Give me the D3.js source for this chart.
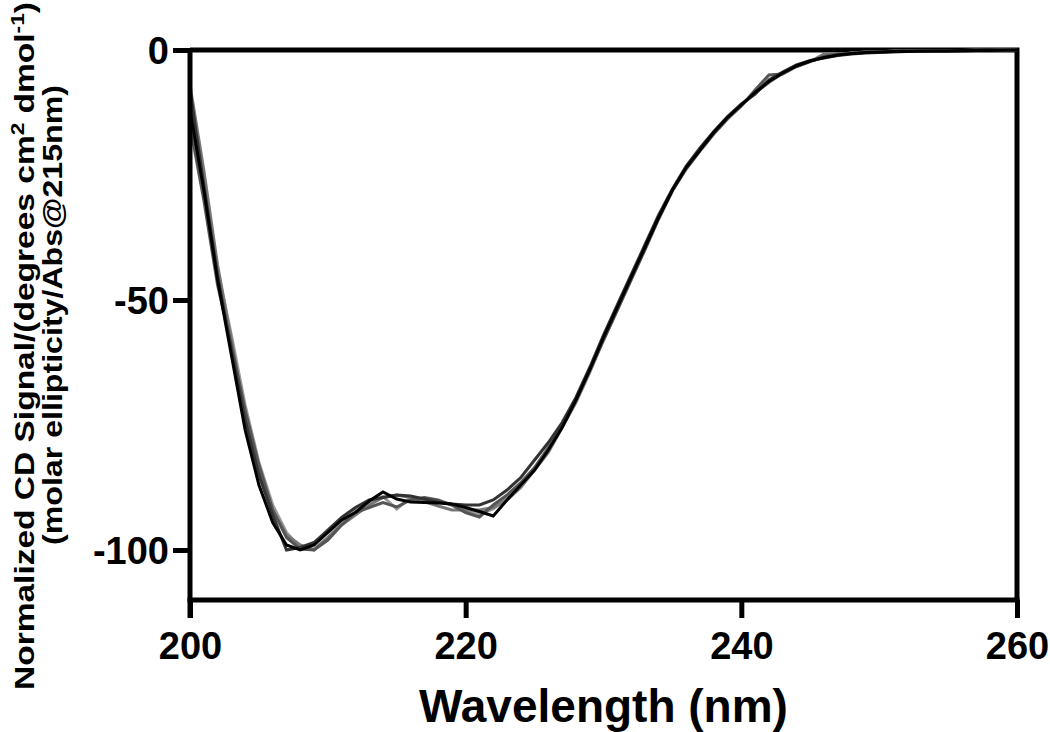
<!DOCTYPE html>
<html>
<head>
<meta charset="utf-8">
<script src="https://d3js.org/d3.v7.min.js"></script>
<style>
  body { margin: 0; background: #fff; }
  text { font-family: "Liberation Sans", Arial, sans-serif; font-weight: bold; fill: #000; }
</style>
</head>
<body>
<div id="my_dataviz"></div>
<script>
// wavelengths sampled every 1 nm
var wavelengths = d3.range(200, 261, 1);

// replicate scans (normalized CD signal)
var scanA = [-12, -28, -46, -61, -76, -87, -94.5, -99, -100, -99, -96.5, -94, -92.5, -90.2, -88.4, -89.8, -90.4, -90.5, -90.6, -90.8,
  -91.5, -92.3, -93.2, -90, -87, -84, -80, -75.5, -70, -64, -57.5, -51.5, -45.5, -39.5, -33.5, -28, -23.5, -20, -16.5, -13.5,
  -11, -8.5, -6.3, -4.6, -3.2, -2.2, -1.5, -1, -0.7, -0.5, -0.4, -0.3, -0.3, -0.2, -0.2, -0.2, -0.1, -0.1, -0.1, 0, 0];
var scanB = [-8, -27, -45, -60, -74, -85, -93, -100, -99.5, -98.5, -96, -93.5, -91.5, -90, -89.5, -89, -89.2, -89.8, -90.4, -90.8,
  -91, -91, -90, -88, -85.5, -82, -78.5, -74.5, -69.5, -63.5, -57, -51, -45, -39, -33, -27.8, -23.2, -19.6, -16.3, -13.3,
  -10.8, -8.8, -6, -4.4, -3, -2.1, -1.6, -1.1, -0.8, -0.6, -0.5, -0.4, -0.3, -0.3, -0.2, -0.2, -0.2, -0.1, -0.1, -0.1, 0];
var scanC = [-15, -30, -47, -59, -72, -83, -92, -97.5, -99.8, -100, -98, -95, -92.5, -91.5, -90.5, -91.4, -90, -89.5, -90, -91,
  -92.5, -93.4, -91, -89, -86.5, -83.5, -79.5, -75, -70, -64, -58, -52, -46, -40, -33.8, -28.2, -23.8, -20.2, -16.8, -13.8,
  -11.2, -8, -5, -4.8, -3.3, -2.3, -1.3, -0.8, -0.7, -0.5, -0.4, -0.3, -0.2, -0.3, -0.2, -0.1, -0.2, -0.1, 0, -0.1, 0];
var scanD = [-7, -24, -43, -58, -73, -84, -92, -97, -99, -100, -97.5, -95, -93, -91, -89.5, -89, -89.5, -90.3, -91.2, -92,
  -92, -92, -91.5, -90, -87.5, -84, -80.5, -75.5, -70.5, -64.5, -58, -52, -45.8, -39.8, -33.6, -28, -23.6, -20, -16.6, -13.6,
  -11, -8.6, -6.5, -4.7, -3.3, -2.3, -0.8, -1, -0.6, -0.5, -0.3, -0.3, -0.2, -0.2, -0.1, -0.2, -0.1, 0, -0.1, 0, 0];
var scanE = [-10, -26, -44, -57, -71, -82.5, -91, -96.5, -99.5, -99.8, -97.5, -94.5, -92, -90.5, -89.3, -91.8, -89.5, -89.8, -90.2, -91,
  -92, -92.8, -91.8, -89.5, -87, -84, -80, -75.3, -70.2, -64.2, -57.8, -51.8, -45.6, -39.6, -33.4, -28, -23.4, -19.8, -16.4, -13.5,
  -11, -8.4, -6.2, -4.5, -3.1, -2.2, -1.4, -0.9, -0.6, -0.4, -0.4, -0.2, -0.3, -0.2, -0.2, -0.1, -0.1, -0.1, -0.1, 0, 0];

var xTicks = [200, 220, 240, 260];
var yTicks = [0, -50, -100];

// lighter scans first so the black one ends on top
var scans = [
  { values: scanE, color: "#9a9a9a" },
  { values: scanD, color: "#787878" },
  { values: scanC, color: "#555555" },
  { values: scanB, color: "#333333" },
  { values: scanA, color: "#000000" }
];

// set the dimensions and margins of the graph
var margin = { top: 50, right: 33, bottom: 132, left: 190 },
  width = 1050 - margin.left - margin.right,
  height = 732 - margin.top - margin.bottom;

var svg = d3.select("#my_dataviz")
  .append("svg")
  .attr("width", width + margin.left + margin.right)
  .attr("height", height + margin.top + margin.bottom)
  .append("g")
  .attr("transform", "translate(" + margin.left + "," + margin.top + ")");

var x = d3.scaleLinear().domain([200, 260]).range([0, width]);
var y = d3.scaleLinear().domain([-110, 0]).range([height, 0]);

// frame (top and right)
svg.append("path")
  .attr("d", "M0," + y(0) + "H" + x(260) + "V" + y(-110))
  .attr("fill", "none")
  .attr("stroke", "#000")
  .attr("stroke-width", 5);

// the scans
var line = d3.line()
  .x(function (d, i) { return x(wavelengths[i]); })
  .y(function (d) { return y(d); });

svg.append("g")
  .selectAll("path")
  .data(scans)
  .enter()
  .append("path")
  .attr("d", function (d) { return line(d.values); })
  .attr("fill", "none")
  .attr("stroke", function (d) { return d.color; })
  .attr("stroke-width", 3)
  .attr("stroke-linejoin", "miter");

// X axis
var xAxis = svg.append("g")
  .attr("transform", "translate(0," + height + ")")
  .call(d3.axisBottom(x).tickValues(xTicks).tickSize(18).tickPadding(14).tickFormat(function (d) { return String(d); }));
xAxis.select(".domain").attr("d", "M" + (-2.5) + ",0H" + (width + 2.5)).attr("stroke-width", 5);
xAxis.selectAll(".tick line").attr("stroke-width", 5);
xAxis.selectAll(".tick text").style("font-size", "38px");

// Y axis (plain hyphen for the minus sign, like the original)
var yAxis = svg.append("g")
  .call(d3.axisLeft(y).tickValues(yTicks).tickSize(17).tickPadding(4).tickFormat(function (d) { return String(d); }));
yAxis.select(".domain").attr("d", "M0," + y(0) + "V" + (height + 18)).attr("stroke-width", 5);
yAxis.selectAll(".tick line").attr("stroke-width", 5);
yAxis.selectAll(".tick text").style("font-size", "38px").attr("dy", "0.35em");

// axis titles
svg.append("text")
  .attr("x", width / 2)
  .attr("y", height + 122)
  .attr("text-anchor", "middle")
  .style("font-size", "46px")
  .text("Wavelength (nm)");

var t1 = svg.append("text")
  .attr("transform", "translate(" + (34 - margin.left) + "," + (346 - margin.top) + ") rotate(-90)")
  .attr("text-anchor", "middle")
  .attr("textLength", 688)
  .attr("lengthAdjust", "spacingAndGlyphs")
  .style("font-size", "28px");
t1.append("tspan").text("Normalized CD Signal/(degrees cm");
t1.append("tspan").attr("dy", -10).style("font-size", "19px").text("2");
t1.append("tspan").attr("dy", 10).text(" dmol");
t1.append("tspan").attr("dy", -10).style("font-size", "19px").text("-1");
t1.append("tspan").attr("dy", 10).text(")");

svg.append("text")
  .attr("transform", "translate(" + (62 - margin.left) + "," + (315 - margin.top) + ") rotate(-90)")
  .attr("text-anchor", "middle")
  .attr("textLength", 460)
  .attr("lengthAdjust", "spacingAndGlyphs")
  .style("font-size", "28px")
  .text("(molar ellipticity/Abs@215nm)");
</script>
</body>
</html>
